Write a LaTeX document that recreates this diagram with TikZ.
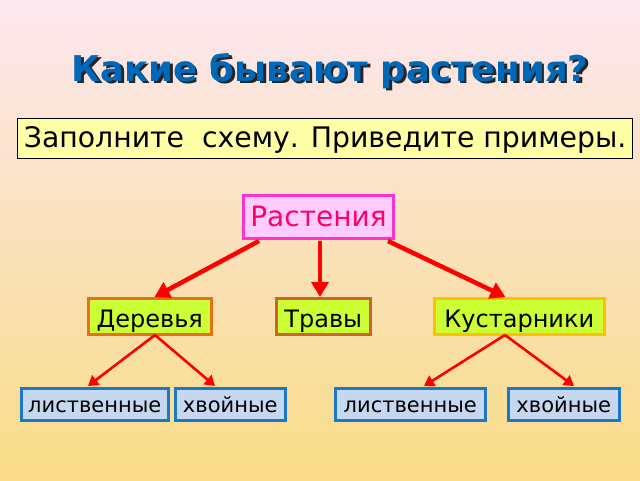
\documentclass[tikz,border=0pt]{standalone}
\usepackage{fontspec}
\setmainfont{DejaVu Sans}
\usetikzlibrary{arrows.meta}
\definecolor{bgtop}{HTML}{FDE7F0}
\definecolor{bgbot}{HTML}{F8DC86}
\definecolor{titleblue}{HTML}{0068B8}
\definecolor{instrfill}{HTML}{FFFFA6}
\definecolor{rootfill}{HTML}{FFCCFF}
\definecolor{rootdraw}{HTML}{FF33CC}
\definecolor{roottext}{HTML}{FF0066}
\definecolor{catfill}{HTML}{CCFF33}
\definecolor{derdraw}{HTML}{E8701A}
\definecolor{travdraw}{HTML}{C8642C}
\definecolor{kustdraw}{HTML}{FFC000}
\definecolor{leaffill}{HTML}{C6D7F0}
\definecolor{leafdraw}{HTML}{1C78C4}
\tikzset{
  box/.style={draw, line width=2.5pt, inner sep=0pt, anchor=north west},
  cattext/.style={font=\fontsize{24}{26}\selectfont, anchor=base, inner sep=0pt},
  leaftext/.style={font=\fontsize{21}{23}\selectfont, anchor=base, inner sep=0pt},
  catbox/.style={box, fill=catfill, minimum height=36pt},
  leafbox/.style={box, fill=leaffill, draw=leafdraw, minimum height=32pt},
  bigarrow/.style={draw=red, line width=4.5pt, -{Triangle[length=15pt,width=17pt]}},
  smallarrow/.style={draw=red, line width=2.6pt, -{Triangle[length=10pt,width=12pt]}},
}
\begin{document}
\begin{tikzpicture}[x=1pt,y=-1pt]
\shade[top color=bgtop, bottom color=bgbot] (0,0) rectangle (640,480);
\useasboundingbox (0,0) rectangle (640,480);
% title with shadow
\node[font=\fontsize{35.5}{38}\bfseries\selectfont, anchor=base, inner sep=0pt] (title) at (330,81)
  {\makebox[0pt][l]{\raisebox{-2.5pt}{\hspace{2.5pt}\textcolor{black!85}{Какие бывают растения?}}}\textcolor{titleblue}{Какие бывают растения?}};
% instruction
\node[box, line width=1.2pt, fill=instrfill, minimum width=615pt, minimum height=40pt] (instr) at (17,118) {};
\node[font=\fontsize{28.3}{30}\selectfont, anchor=base, inner sep=0pt] (instrt) at ([yshift=-8.5pt]instr.center) {Заполните\ \ схему. Приведите примеры.};
% root
\node[box, line width=3pt, draw=rootdraw, fill=rootfill, minimum width=150pt, minimum height=43pt] (root) at (242,194) {};
\node[text=roottext, font=\fontsize{28}{30}\selectfont, anchor=base, inner sep=0pt] (roott) at ([yshift=-9.5pt]root.center) {Растения};
% categories
\node[catbox, draw=derdraw, minimum width=123pt] (der) at (87,297) {};
\node[cattext] (dert) at ([yshift=-11pt]der.center) {Деревья};
\node[catbox, draw=travdraw, minimum width=94pt] (trav) at (275,297) {};
\node[cattext] (travt) at ([yshift=-11pt]trav.center) {Травы};
\node[catbox, draw=kustdraw, minimum width=170pt] (kust) at (433,297) {};
\node[cattext] (kustt) at ([yshift=-11pt]kust.center) {Кустарники};
% leaves
\node[leafbox, minimum width=147pt] (l1) at (20,387) {};
\node[leaftext] (l1t) at ([yshift=-8pt]l1.center) {лиственные};
\node[leafbox, minimum width=110pt] (h1) at (174,387) {};
\node[leaftext] (h1t) at ([yshift=-8pt]h1.center) {хвойные};
\node[leafbox, minimum width=150pt] (l2) at (334,387) {};
\node[leaftext] (l2t) at ([yshift=-8pt]l2.center) {лиственные};
\node[leafbox, minimum width=111pt] (h2) at (507,387) {};
\node[leaftext] (h2t) at ([yshift=-8pt]h2.center) {хвойные};
% connectors
\coordinate (r1) at (259,241);
\coordinate (r2) at (320,241);
\coordinate (r3) at (388,241);
\draw[bigarrow] (r1) -- ([xshift=-58pt]der.north east);
\draw[bigarrow] (r2) -- (trav.north -| r2);
\draw[bigarrow] (r3) -- ([xshift=-100pt]kust.north east);
\coordinate (d0) at (155,335);
\coordinate (k0) at (505,335);
\coordinate (e1) at (88,386);
\coordinate (e2) at (215,386);
\coordinate (e3) at (424,386);
\coordinate (e4) at (574,386);
\draw[smallarrow] (d0) -- (e1);
\draw[smallarrow] (d0) -- (e2);
\draw[smallarrow] (k0) -- (e3);
\draw[smallarrow] (k0) -- (e4);
\end{tikzpicture}
\end{document}
